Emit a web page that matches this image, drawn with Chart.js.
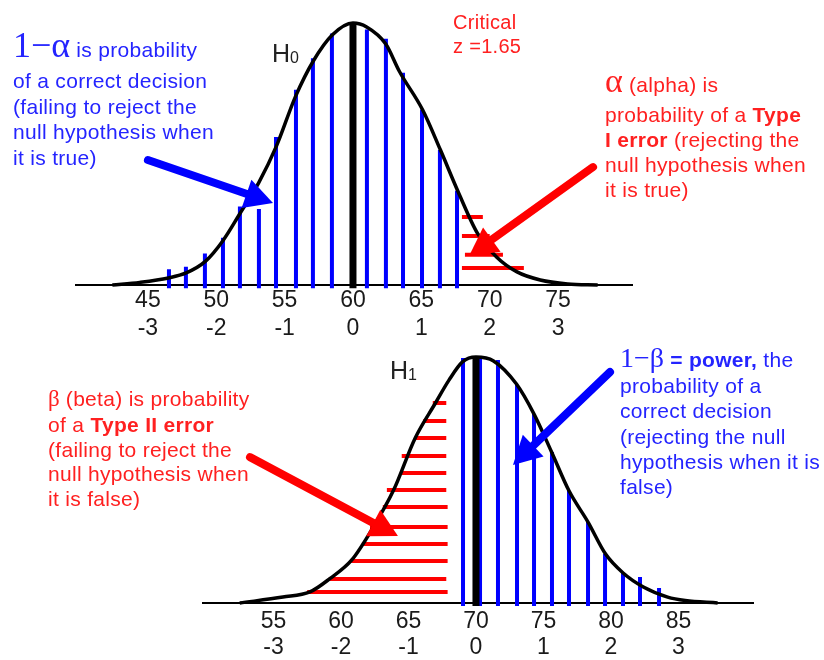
<!DOCTYPE html>
<html>
<head>
<meta charset="utf-8">
<title>Type I and Type II errors</title>
<script src="https://cdn.jsdelivr.net/npm/chart.js@4.4.1/dist/chart.umd.min.js"></script>
<style>
  body { margin: 0; background: #fff; }
  #wrap { position: relative; width: 824px; height: 660px; overflow: hidden; font-family: 'Liberation Sans', Arial, sans-serif; }
  canvas { position: absolute; left: 0; }
  #topChart { top: 0; }
  #bottomChart { top: 330px; }
  .note { position: absolute; font-size: 21px; line-height: 25.5px; letter-spacing: 0.3px; white-space: nowrap; }
  .blue { color: #2424ff; }
  .red { color: #ff2020; }
  .sym { font-family: 'Liberation Serif', 'DejaVu Serif', serif; letter-spacing: 0; }
  .hyp { position: absolute; font-size: 25px; line-height: 30px; color: #222; }
  .hyp span { font-size: 16px; vertical-align: -1px; }
</style>
</head>
<body>
<div id="wrap">
  <canvas id="topChart" width="824" height="340"></canvas>
  <canvas id="bottomChart" width="824" height="330"></canvas>

  <div class="note blue" style="left:13px; top:33px;"><span class="sym" style="font-size:36px;">1&minus;&alpha;</span> is probability</div>
  <div class="note blue" style="left:13px; top:68px;">of a correct decision<br>(failing to reject the<br>null hypothesis when<br>it is true)</div>

  <div class="hyp" style="left:272px; top:38px;">H<span>0</span></div>

  <div class="note red" style="left:453px; top:10px; font-size:20px; line-height:24px;">Critical<br>z =1.65</div>

  <div class="note red" style="left:605px; top:68px;"><span class="sym" style="font-size:34px;">&alpha;</span> (alpha) is</div>
  <div class="note red" style="left:605px; top:102px; line-height:25px;">probability of a <b>Type</b><br><b>I error</b> (rejecting the<br>null hypothesis when<br>it is true)</div>

  <div class="hyp" style="left:390px; top:355px;">H<span>1</span></div>

  <div class="note red" style="left:48px; top:386px;"><span class="sym" style="font-size:23px;">&beta;</span> (beta) is probability</div>
  <div class="note red" style="left:48px; top:413px; line-height:24.7px;">of a <b>Type II error</b><br>(failing to reject the<br>null hypothesis when<br>it is false)</div>

  <div class="note blue" style="left:620px; top:345px;"><span class="sym" style="font-size:28px;">1&minus;&beta;</span> <b>= power,</b> the</div>
  <div class="note blue" style="left:620px; top:373px; line-height:25.3px;">probability of a<br>correct decision<br>(rejecting the null<br>hypothesis when it is<br>false)</div>
</div>

<script>
// ---- H0 (top) ----
const topTicks = [45, 50, 55, 60, 65, 70, 75];
const zLabels = ['-3', '-2', '-1', '0', '1', '2', '3'];
const topCurveX = [42.4, 44.4, 46.5, 47.8, 49.2, 50.5, 51.7, 53.1, 54.4, 55.8, 57.1, 58.5, 60, 61, 62.4, 63.4, 65.1, 66.4, 67.7, 69.1, 70.5, 72, 73.7, 75.7, 77.9];
const topCurveH = [0, 0.01, 0.027, 0.046, 0.09, 0.17, 0.27, 0.39, 0.53, 0.72, 0.855, 0.955, 1, 0.985, 0.92, 0.815, 0.668, 0.515, 0.355, 0.198, 0.107, 0.05, 0.019, 0.004, 0];
const topMean = 60;
const topBlueX = [46.54, 47.78, 49.17, 50.49, 51.73, 53.12, 54.37, 55.83, 57.07, 58.46, 61.02, 62.41, 63.66, 65.05, 66.36, 67.61];
const topBlueH = [0.06, 0.07, 0.12, 0.18, 0.30, 0.29, 0.565, 0.745, 0.865, 0.96, 0.975, 0.94, 0.81, 0.67, 0.515, 0.36];
const alphaY = [0.26, 0.187, 0.115, 0.065];
const alphaLeft = [67.97, 67.97, 68.19, 67.97];
const alphaRight = [69.5, 70.0, 70.97, 72.5];

// ---- H1 (bottom) ----
const bottomTicks = [55, 60, 65, 70, 75, 80, 85];
const bottomCurveX = [52.5, 55.7, 57.7, 59.2, 60.8, 62.4, 63.9, 65.5, 67, 68, 69, 70, 71.3, 73, 74.3, 75.6, 76.9, 78.3, 79.6, 80.9, 82.4, 84.2, 85.5, 87.9];
const bottomCurveH = [0, 0.024, 0.045, 0.1, 0.175, 0.309, 0.459, 0.671, 0.813, 0.906, 0.98, 1, 0.984, 0.89, 0.768, 0.614, 0.455, 0.329, 0.199, 0.122, 0.065, 0.024, 0.01, 0];
const bottomMean = 70;
const bottomBlueX = [69.04, 70.30, 71.63, 73.04, 74.30, 75.63, 76.89, 78.30, 79.56, 80.89, 82.15, 83.56];
const bottomBlueH = [0.996, 0.996, 0.988, 0.886, 0.768, 0.614, 0.455, 0.329, 0.199, 0.122, 0.106, 0.061];
const betaY = [0.813, 0.740, 0.671, 0.598, 0.528, 0.459, 0.390, 0.309, 0.240, 0.171, 0.098, 0.045];
const betaLeft = [66.8, 66.1, 65.5, 64.5, 64.5, 63.4, 63.1, 62.15, 61.55, 60.75, 59.1, 57.5];
const betaRight = [67.8, 67.8, 67.8, 67.8, 67.8, 67.8, 67.9, 67.9, 67.9, 67.9, 67.8, 67.9];

// arrows, in data units of each chart
const topArrows = [
    { from: [45.0, 0.477], to: [54.15, 0.313], color: '#0000ff' },
    { from: [77.56, 0.45], to: [68.49, 0.111], color: '#ff0000' }
];
const bottomArrows = [
    { from: [53.26, 0.593], to: [64.22, 0.272], color: '#ff0000' },
    { from: [79.93, 0.939], to: [72.74, 0.561], color: '#0000ff' }
];

const BASE = -0.012; // blue lines run a little under the axis

function pairs(xs, ys) {
    return xs.map((x, i) => ({ x: x, y: ys[i] }));
}

// vertical segments split by null points
function vSegments(xs, hs) {
    const pts = [];
    xs.forEach((x, i) => {
        pts.push({ x: x, y: BASE }, { x: x, y: hs[i] }, { x: x, y: null });
    });
    return pts;
}

function hSegments(ys, lefts, rights) {
    const pts = [];
    ys.forEach((y, i) => {
        pts.push({ x: lefts[i], y: y }, { x: rights[i], y: y }, { x: rights[i], y: null });
    });
    return pts;
}

function lineSet(data, color, width, extra) {
    return Object.assign({
        data: data,
        showLine: true,
        borderColor: color,
        borderWidth: width,
        borderCapStyle: 'butt',
        pointRadius: 0,
        spanGaps: false,
        clip: false
    }, extra || {});
}

function arrowPlugin(arrows) {
    return {
        id: 'arrows',
        afterDatasetsDraw(chart) {
            const ctx = chart.ctx;
            const xs = chart.scales.x, ys = chart.scales.y;
            arrows.forEach(a => {
                const x1 = xs.getPixelForValue(a.from[0]), y1 = ys.getPixelForValue(a.from[1]);
                const x2 = xs.getPixelForValue(a.to[0]), y2 = ys.getPixelForValue(a.to[1]);
                const ang = Math.atan2(y2 - y1, x2 - x1);
                const len = 28, half = 15;
                const bx = x2 - len * Math.cos(ang), by = y2 - len * Math.sin(ang);
                ctx.save();
                ctx.strokeStyle = a.color;
                ctx.fillStyle = a.color;
                ctx.lineWidth = 8;
                ctx.lineCap = 'round';
                ctx.beginPath();
                ctx.moveTo(x1, y1);
                ctx.lineTo(bx + 2 * Math.cos(ang), by + 2 * Math.sin(ang));
                ctx.stroke();
                ctx.beginPath();
                ctx.moveTo(x2, y2);
                ctx.lineTo(bx + half * Math.sin(ang), by - half * Math.cos(ang));
                ctx.lineTo(bx - half * Math.sin(ang), by + half * Math.cos(ang));
                ctx.closePath();
                ctx.fill();
                ctx.restore();
            });
        }
    };
}

function makeChart(id, cfg) {
    return new Chart(document.getElementById(id), {
        type: 'scatter',
        data: {
            datasets: [
                lineSet(pairs(cfg.curveX, cfg.curveH), '#000', 3.5, { cubicInterpolationMode: 'monotone' }),
                lineSet([{ x: cfg.mean, y: BASE }, { x: cfg.mean, y: 1 }], '#000', 7),
                lineSet(vSegments(cfg.blueX, cfg.blueH), '#0000ff', 4),
                lineSet(hSegments(cfg.redY, cfg.redLeft, cfg.redRight), '#ff0000', 4)
            ]
        },
        options: {
            responsive: false,
            animation: false,
            layout: { padding: cfg.padding },
            plugins: { legend: { display: false }, tooltip: { enabled: false } },
            scales: {
                x: {
                    type: 'linear',
                    min: cfg.xMin,
                    max: cfg.xMax,
                    grid: { display: false, drawTicks: false },
                    border: { display: true, color: '#000', width: 2 },
                    afterBuildTicks: (s) => { s.ticks = cfg.ticks.map(v => ({ value: v })); },
                    afterFit: (s) => { s.height = 55; },
                    ticks: {
                        autoSkip: false,
                        maxRotation: 0,
                        padding: cfg.tickPad,
                        color: '#1a1a1a',
                        font: { family: "'Liberation Sans', Arial, sans-serif", size: 23, lineHeight: cfg.tickLine },
                        callback: (value, index) => [String(value), zLabels[index]]
                    }
                },
                y: { display: false, min: 0, max: cfg.yMax }
            }
        },
        plugins: [arrowPlugin(cfg.arrows)]
    });
}

makeChart('topChart', {
    curveX: topCurveX, curveH: topCurveH, mean: topMean,
    blueX: topBlueX, blueH: topBlueH,
    redY: alphaY, redLeft: alphaLeft, redRight: alphaRight,
    ticks: topTicks, arrows: topArrows,
    xMin: 39.74, xMax: 80.41, yMax: 285 / 262,
    padding: { left: 76, right: 192, top: 0, bottom: 0 },
    tickPad: 2, tickLine: 28 / 23
});

makeChart('bottomChart', {
    curveX: bottomCurveX, curveH: bottomCurveH, mean: bottomMean,
    blueX: bottomBlueX, blueH: bottomBlueH,
    redY: betaY, redLeft: betaLeft, redRight: betaRight,
    ticks: bottomTicks, arrows: bottomArrows,
    xMin: 49.78, xMax: 90.52, yMax: 273 / 246,
    padding: { left: 203, right: 71, top: 0, bottom: 2 },
    tickPad: 6, tickLine: 26 / 23
});
</script>
</body>
</html>
